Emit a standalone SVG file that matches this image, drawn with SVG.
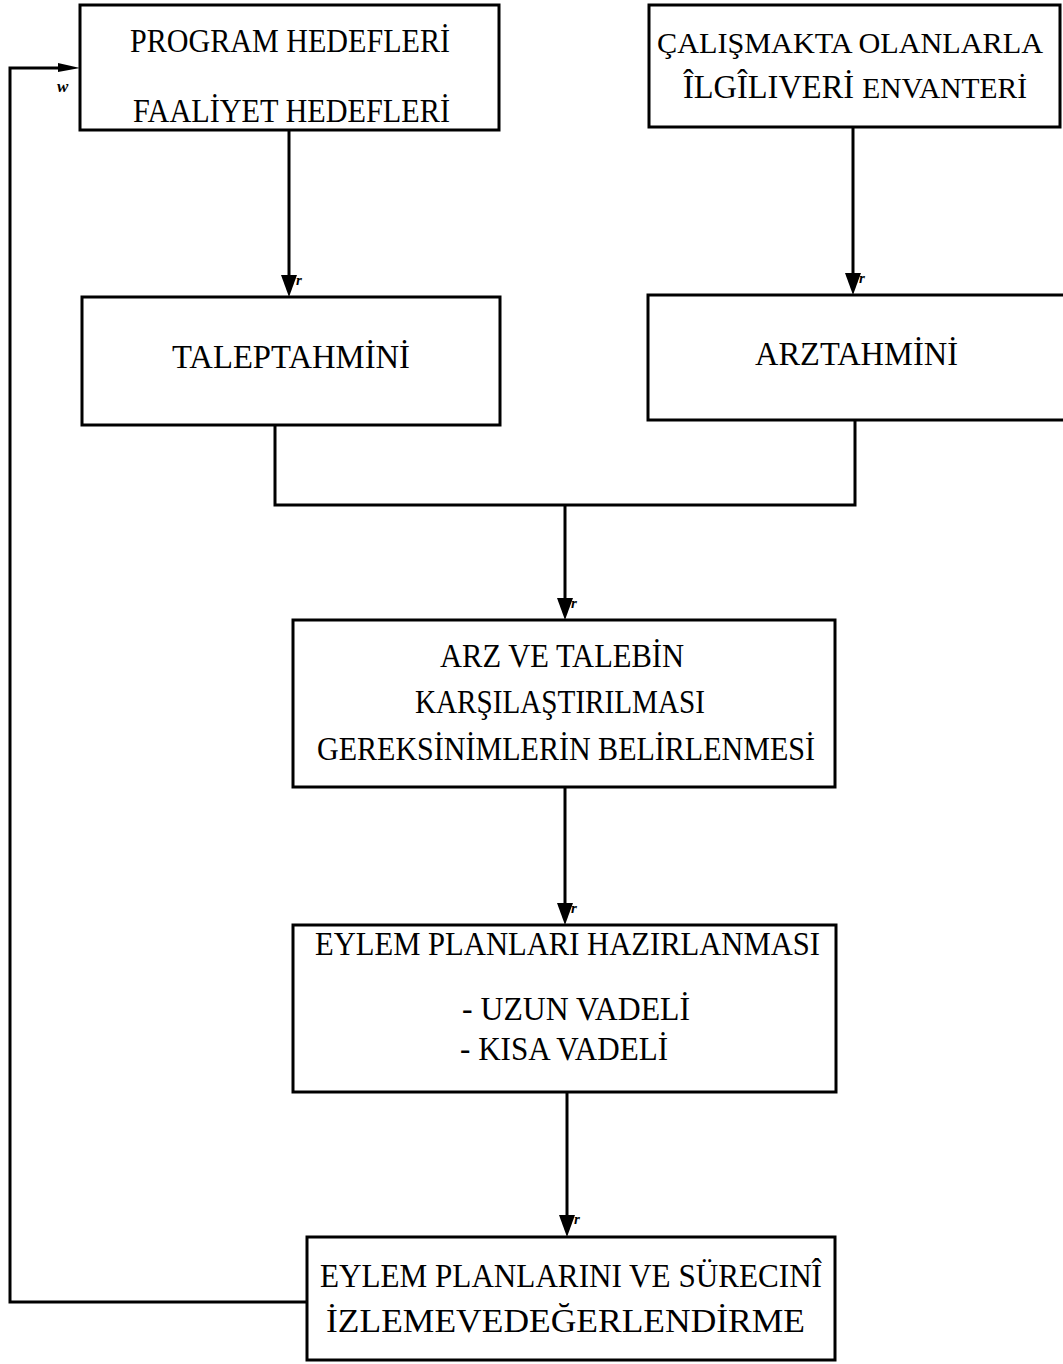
<svg xmlns="http://www.w3.org/2000/svg" width="1063" height="1364" viewBox="0 0 1063 1364">
<style>
.box{fill:none;stroke:#000;stroke-width:3}
.line{fill:none;stroke:#000;stroke-width:3}
.head{fill:#000}
.t{font-family:"Liberation Serif","Times New Roman",serif;font-size:33px;fill:#000}
.lbl{font-family:"Liberation Serif","Times New Roman",serif;font-size:15px;font-style:italic;font-weight:bold;fill:#000}
</style>
<defs>
<path id="down" d="M-8,-22 L8,-22 L0,0 Z"/>
</defs>
<rect width="1063" height="1364" fill="#fff"/>

<g id="connectors">
<line class="line" x1="289" y1="131" x2="289" y2="280"/>
<use href="#down" class="head" x="289" y="297"/>
<line class="line" x1="853" y1="127" x2="853" y2="278"/>
<use href="#down" class="head" x="853" y="295"/>
<polyline class="line" points="275,425 275,505 855,505 855,420"/>
<line class="line" x1="565" y1="505" x2="565" y2="603"/>
<use href="#down" class="head" x="565" y="620"/>
<line class="line" x1="565" y1="787" x2="565" y2="908"/>
<use href="#down" class="head" x="565" y="925"/>
<line class="line" x1="567" y1="1092" x2="567" y2="1220"/>
<use href="#down" class="head" x="567" y="1237"/>
<polyline class="line" points="308,1302 10,1302 10,68 60,68"/>
<path class="head" d="M58,63 L80,68 L58,72 Z"/>
<text class="lbl" x="296" y="285">r</text>
<text class="lbl" x="859" y="283">r</text>
<text class="lbl" x="571" y="608">r</text>
<text class="lbl" x="571" y="913">r</text>
<text class="lbl" x="574" y="1224">r</text>
<text class="lbl" x="57" y="92" style="font-size:17px">w</text>
</g>

<g id="program-hedefleri">
<rect class="box" x="80" y="5" width="419" height="125"/>
<text class="t" x="130" y="52" textLength="320" lengthAdjust="spacingAndGlyphs">PROGRAM HEDEFLERİ</text>
<text class="t" x="133" y="122" textLength="317" lengthAdjust="spacingAndGlyphs">FAALİYET HEDEFLERİ</text>
</g>

<g id="calismakta">
<path class="box" d="M1060,5 L649,5 L649,127 L1060,127 Z"/>
<text class="t" x="657" y="53" style="font-size:30px" textLength="386" lengthAdjust="spacingAndGlyphs">ÇALIŞMAKTA OLANLARLA</text>
<text class="t" x="683" y="98" textLength="344" lengthAdjust="spacingAndGlyphs">ÎLGÎLIVERİ <tspan style="font-size:30px">ENVANTERİ</tspan></text>
</g>

<g id="talep-tahmini">
<rect class="box" x="82" y="297" width="418" height="128"/>
<text class="t" x="172" y="368" textLength="238" lengthAdjust="spacingAndGlyphs">TALEPTAHMİNİ</text>
</g>

<g id="arz-tahmini">
<path class="box" d="M1063,295 L648,295 L648,420 L1063,420"/>
<text class="t" x="755" y="365" textLength="203" lengthAdjust="spacingAndGlyphs">ARZTAHMİNİ</text>
</g>

<g id="karsilastirma">
<rect class="box" x="293" y="620" width="542" height="167"/>
<text class="t" x="440" y="667" textLength="244" lengthAdjust="spacingAndGlyphs">ARZ VE TALEBİN</text>
<text class="t" x="415" y="713" textLength="290" lengthAdjust="spacingAndGlyphs">KARŞILAŞTIRILMASI</text>
<text class="t" x="317" y="760" textLength="498" lengthAdjust="spacingAndGlyphs">GEREKSİNİMLERİN BELİRLENMESİ</text>
</g>

<g id="eylem-planlari">
<rect class="box" x="293" y="925" width="543" height="167"/>
<text class="t" x="315" y="955" textLength="505" lengthAdjust="spacingAndGlyphs">EYLEM PLANLARI HAZIRLANMASI</text>
<text class="t" x="462" y="1020" textLength="228" lengthAdjust="spacingAndGlyphs">- UZUN VADELİ</text>
<text class="t" x="460" y="1060" textLength="208" lengthAdjust="spacingAndGlyphs">-  KISA VADELİ</text>
</g>

<g id="izleme">
<rect class="box" x="307" y="1237" width="528" height="123"/>
<text class="t" x="320" y="1287" textLength="502" lengthAdjust="spacingAndGlyphs">EYLEM PLANLARINI VE SÜRECINÎ</text>
<text class="t" x="326" y="1332" textLength="479" lengthAdjust="spacingAndGlyphs">İZLEMEVEDEĞERLENDİRME</text>
</g>
</svg>
